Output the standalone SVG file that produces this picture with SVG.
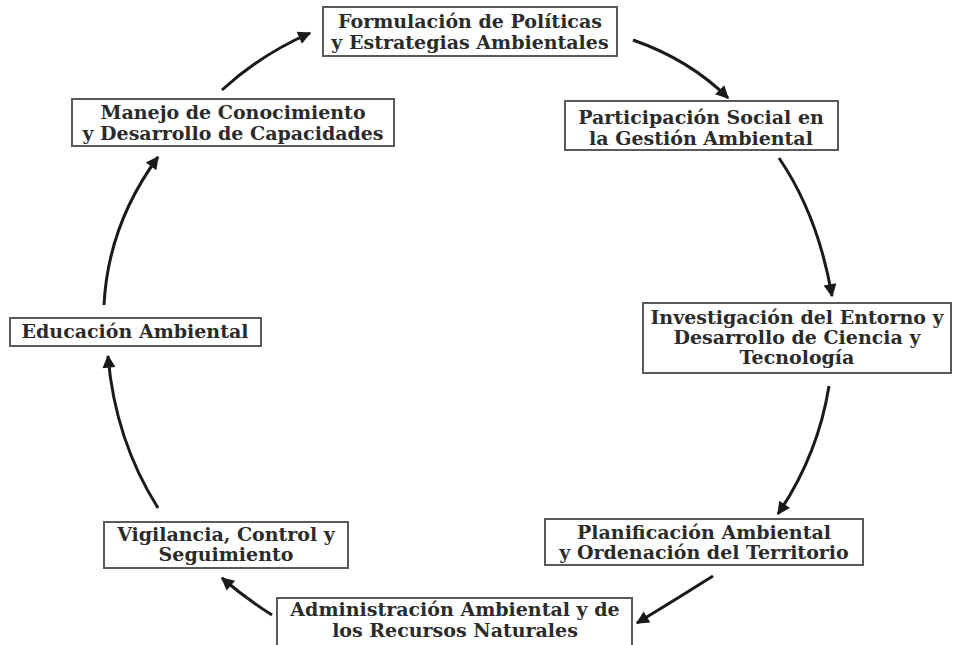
<svg xmlns="http://www.w3.org/2000/svg" width="953" height="645" viewBox="0 0 953 645">
<style>
.box{fill:#ffffff;stroke:#5a5a5a;stroke-width:2}
.t{font-family:"DejaVu Serif","Liberation Serif",serif;font-weight:bold;font-size:19px;fill:#2b2b2b;text-anchor:middle}
.c{fill:none;stroke:#1a1a1a;stroke-width:3;marker-end:url(#ah)}
</style>
<defs>
<marker id="ah" viewBox="0 0 10 10" refX="9" refY="5" markerWidth="16" markerHeight="13" markerUnits="userSpaceOnUse" orient="auto">
<path d="M0,0 L10,5 L0,10 Z" fill="#1a1a1a"/>
</marker>
</defs>
<rect width="953" height="645" fill="#ffffff"/>
<g id="connectors">
<path class="c" d="M633,40 Q690,60 728,98"/>
<path class="c" d="M779,158 Q818,215 832,296"/>
<path class="c" d="M829,386 Q818,455 778,514"/>
<path class="c" d="M713,576 Q675,600 637,623"/>
<path class="c" d="M272,615 Q245,598 222,578"/>
<path class="c" d="M158,508 Q115,440 108,356"/>
<path class="c" d="M104,305 Q108,225 158,157"/>
<path class="c" d="M222,90 Q260,55 310,33"/>
</g>
<g id="n1"><rect class="box" x="323" y="7" width="294" height="49"/><text class="t" x="470" y="28">Formulación de Políticas</text><text class="t" x="470" y="49">y Estrategias Ambientales</text></g>
<g id="n2"><rect class="box" x="565" y="101" width="273" height="49"/><text class="t" x="701" y="124">Participación Social en</text><text class="t" x="701" y="145">la Gestión Ambiental</text></g>
<g id="n3"><rect class="box" x="643" y="303" width="308" height="70"/><text class="t" x="797" y="324">Investigación del Entorno y</text><text class="t" x="797" y="344">Desarrollo de Ciencia y</text><text class="t" x="797" y="364">Tecnología</text></g>
<g id="n4"><rect class="box" x="545" y="519" width="318" height="46"/><text class="t" x="704" y="539">Planificación Ambiental</text><text class="t" x="704" y="559">y Ordenación del Territorio</text></g>
<g id="n5"><rect class="box" x="277" y="598" width="355" height="50"/><text class="t" x="455" y="616">Administración Ambiental y de</text><text class="t" x="455" y="637">los Recursos Naturales</text></g>
<g id="n6"><rect class="box" x="104" y="522" width="244" height="46"/><text class="t" x="226" y="541">Vigilancia, Control y</text><text class="t" x="226" y="561">Seguimiento</text></g>
<g id="n7"><rect class="box" x="10" y="318" width="251" height="28"/><text class="t" x="135" y="338">Educación Ambiental</text></g>
<g id="n8"><rect class="box" x="72" y="99" width="322" height="47"/><text class="t" x="233" y="119">Manejo de Conocimiento</text><text class="t" x="233" y="140">y Desarrollo de Capacidades</text></g>
</svg>
